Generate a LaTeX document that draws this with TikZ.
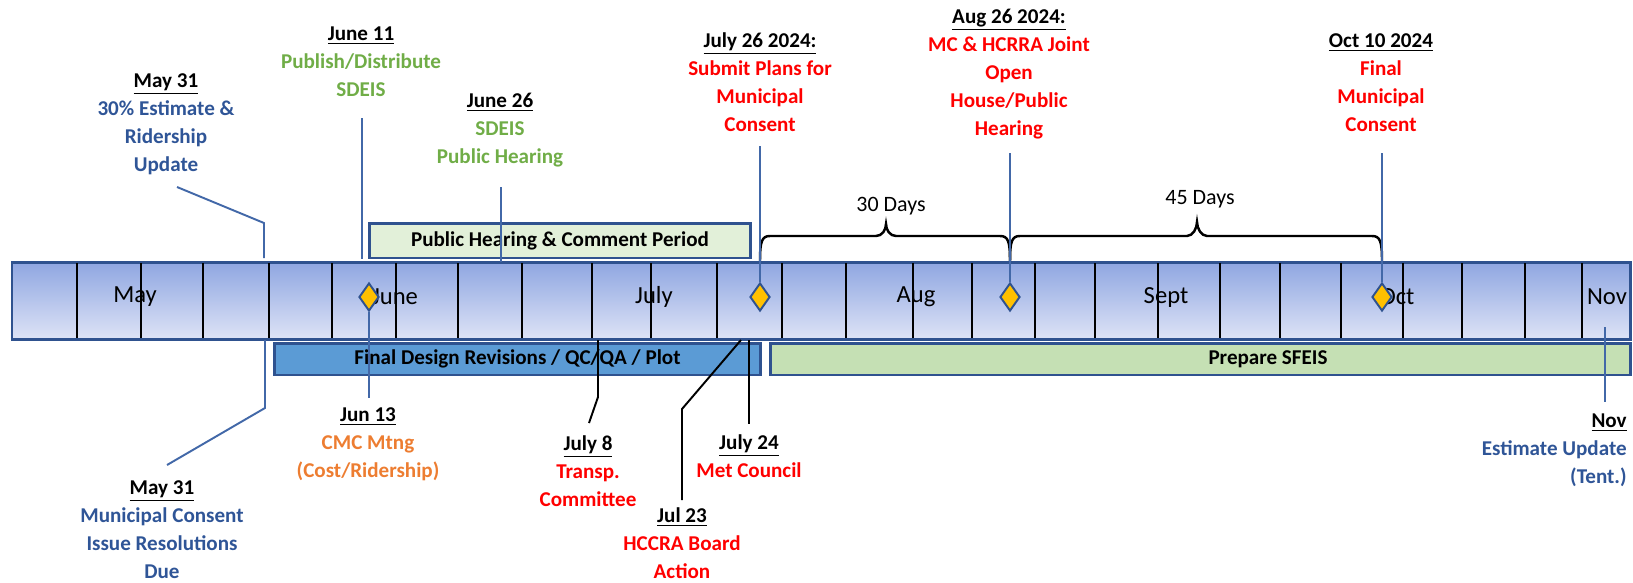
\documentclass[tikz,border=0pt]{standalone}
\usepackage{fontspec}
\setmainfont{Carlito}
\usepackage{tikz}
\usetikzlibrary{shapes.geometric}

\definecolor{edgeblue}{HTML}{2F528F}
\definecolor{lineblue}{HTML}{4268A8}
\definecolor{bartop}{HTML}{8FA6E1}
\definecolor{barbottom}{HTML}{DDE3F6}
\definecolor{hearfill}{HTML}{E2F0D9}
\definecolor{designfill}{HTML}{5B9BD5}
\definecolor{sfeisfill}{HTML}{C5E0B4}
\definecolor{msyellow}{HTML}{FFC000}
\definecolor{evblue}{HTML}{2F5597}
\definecolor{evgreen}{HTML}{70AD47}
\definecolor{evred}{HTML}{FF0000}
\definecolor{evorange}{HTML}{ED7D31}

\begin{document}
\begin{tikzpicture}[x=0.02cm, y=-0.02cm,
    month/.style={font=\fontsize{14}{16}\selectfont, inner sep=0pt},
    evt/.style={align=center, font=\bfseries\fontsize{12}{15.9}\selectfont, inner sep=0pt},
    days/.style={font=\fontsize{12.5}{14}\selectfont, inner sep=0pt},
    phase/.style={draw=edgeblue, line width=1.7pt, inner sep=0pt, font=\bfseries\fontsize{12}{14}\selectfont},
    conn/.style={draw=lineblue, line width=1.1pt},
    connk/.style={draw=black, line width=1.1pt},
    milestone/.style={diamond, draw=edgeblue, fill=msyellow, line width=1.1pt, inner sep=0pt, minimum width=0.4cm, minimum height=0.56cm},
    bracket/.style={draw=black, line width=1.4pt},
    week/.style={line width=0.8pt},
    monthend/.style={line width=1.6pt}]
            \useasboundingbox (0, 0) rectangle (1633, 582);

            % timeline bar
            \draw [draw=edgeblue, line width=1.7pt, top color=bartop, bottom color=barbottom] (12, 262) rectangle (1630, 339);
            \foreach \x in {77, 141, 203, 332, 396, 458, 592, 651, 717, 846, 913, 972, 1095, 1158, 1220, 1341, 1403, 1462, 1582}
                \draw [week] (\x, 263) -- (\x, 338);
            \foreach \x in {269, 522, 782, 1035, 1280, 1525}
                \draw [monthend] (\x, 263) -- (\x, 338);
            \foreach \x/\m in {135/May, 395/June, 654/July, 916/Aug, 1166/Sept, 1397/Oct, 1607/Nov}
                \node (m-\m) [month] at (\x, 297) {\m};

            % phases
            \node (hearing) [phase, fill=hearfill, minimum width=7.64cm, minimum height=0.7cm] at (560, 240.5) {Public Hearing \& Comment Period};
            \node (design) [phase, fill=designfill, minimum width=9.74cm, minimum height=0.64cm] at (517.5, 359) {Final Design Revisions / QC/QA / Plot};
            \node (sfeis) [phase, fill=sfeisfill, minimum width=17.22cm, minimum height=0.64cm] at (1200.5, 359) {};
            \node (sfeistext) [phase, draw=none] at (1268, 359) {Prepare SFEIS};

            % events above
            \node (mayA) [evt, text=evblue] at (166, 124) {{\color{black}\underline{May 31}}\\30\% Estimate \&\\Ridership\\Update};
            \node (jun11) [evt, text=evgreen] at (361, 62) {{\color{black}\underline{June 11}}\\Publish/Distribute\\SDEIS};
            \node (jun26) [evt, text=evgreen] at (500, 130) {{\color{black}\underline{June 26}}\\SDEIS\\Public Hearing};
            \node (jul26) [evt, text=evred] at (760, 82) {{\color{black}\underline{July 26 2024:}}\\Submit Plans for\\Municipal\\Consent};
            \node (aug26) [evt, text=evred] at (1009, 74) {{\color{black}\underline{Aug 26 2024:}}\\MC \& HCRRA Joint\\Open\\House/Public\\Hearing};
            \node (oct10) [evt, text=evred] at (1381, 83) {{\color{black}\underline{Oct 10 2024}}\\Final\\Municipal\\Consent};

            % events below
            \node (mayB) [evt, text=evblue] at (162, 530) {{\color{black}\underline{May 31}}\\Municipal Consent\\Issue Resolutions\\Due};
            \node (jun13) [evt, text=evorange] at (368, 444) {{\color{black}\underline{Jun 13}}\\CMC Mtng\\(Cost/Ridership)};
            \node (jul8) [evt, text=evred] at (588, 471) {{\color{black}\underline{July 8}}\\Transp.\\Committee};
            \node (jul23) [evt, text=evred] at (682, 543) {{\color{black}\underline{Jul 23}}\\HCCRA Board\\Action};
            \node (jul24) [evt, text=evred] at (749, 456) {{\color{black}\underline{July 24}}\\Met Council};
            \node (nov) [evt, text=evblue, align=right, anchor=east] at (1627, 450) {{\color{black}\underline{Nov}}\\Estimate Update\\(Tent.)};

            % connector ends
            \coordinate (mayAa) at (177, 187);
            \coordinate (mayAb) at (264, 223);
            \coordinate (mayAc) at (264, 258);
            \coordinate (jun11a) at (362, 118);
            \coordinate (jun11b) at (362, 259);
            \coordinate (jun26a) at (501, 187);
            \coordinate (jun26b) at (501, 262);
            \coordinate (jul26a) at (760, 146);
            \coordinate (aug26a) at (1010, 153);
            \coordinate (oct10a) at (1382, 153);
            \coordinate (jun13a) at (369, 398);
            \coordinate (mayBa) at (265, 340);
            \coordinate (mayBb) at (265, 408);
            \coordinate (mayBc) at (167, 465);
            \coordinate (jul8a) at (598, 340);
            \coordinate (jul8b) at (598, 397);
            \coordinate (jul8c) at (589, 423);
            \coordinate (jul23a) at (741, 340);
            \coordinate (jul23b) at (682, 409);
            \coordinate (jul23c) at (682, 500);
            \coordinate (jul24a) at (749, 340);
            \coordinate (jul24b) at (749, 424);
            \coordinate (nova) at (1605, 327);
            \coordinate (novb) at (1605, 402);

            % braces
            \coordinate (br1) at (760, 261);
            \coordinate (br2) at (1010, 261);
            \coordinate (br3) at (1382, 261);
            \draw [bracket] (br1) .. controls +(0, -20) and +(-8, 0) .. ++(10, -25) -- ++(106, 0)
                .. controls +(6, 0) and +(0, 6) .. ++(10, -12) .. controls +(0, 6) and +(-6, 0) .. ++(10, 12)
                -- ++(104, 0) .. controls +(8, 0) and +(0, -20) .. (br2);
            \draw [bracket] (br2) .. controls +(0, -20) and +(-8, 0) .. ++(10, -25) -- ++(167, 0)
                .. controls +(6, 0) and +(0, 6) .. ++(10, -14) .. controls +(0, 6) and +(-6, 0) .. ++(10, 14)
                -- ++(165, 0) .. controls +(8, 0) and +(0, -20) .. (br3);
            \node (d30) [days] at (891, 206) {30 Days};
            \node (d45) [days] at (1200, 199) {45 Days};

            % milestones
            \node (ms1) [milestone] at (369, 297) {};
            \node (ms2) [milestone] at (760, 297) {};
            \node (ms3) [milestone] at (1010, 297) {};
            \node (ms4) [milestone] at (1382, 297) {};

            % connectors
            \draw [conn] (mayAa) -- (mayAb) -- (mayAc);
            \draw [conn] (jun11a) -- (jun11b);
            \draw [conn] (jun26a) -- (jun26b);
            \draw [conn] (jul26a) -- (ms2.north);
            \draw [conn] (aug26a) -- (ms3.north);
            \draw [conn] (oct10a) -- (ms4.north);
            \draw [conn] (ms1.south) -- (jun13a);
            \draw [conn] (mayBa) -- (mayBb) -- (mayBc);
            \draw [connk] (jul8a) -- (jul8b) -- (jul8c);
            \draw [connk] (jul23a) -- (jul23b) -- (jul23c);
            \draw [connk] (jul24a) -- (jul24b);
            \draw [conn] (nova) -- (novb);
        \end{tikzpicture}
\end{document}
